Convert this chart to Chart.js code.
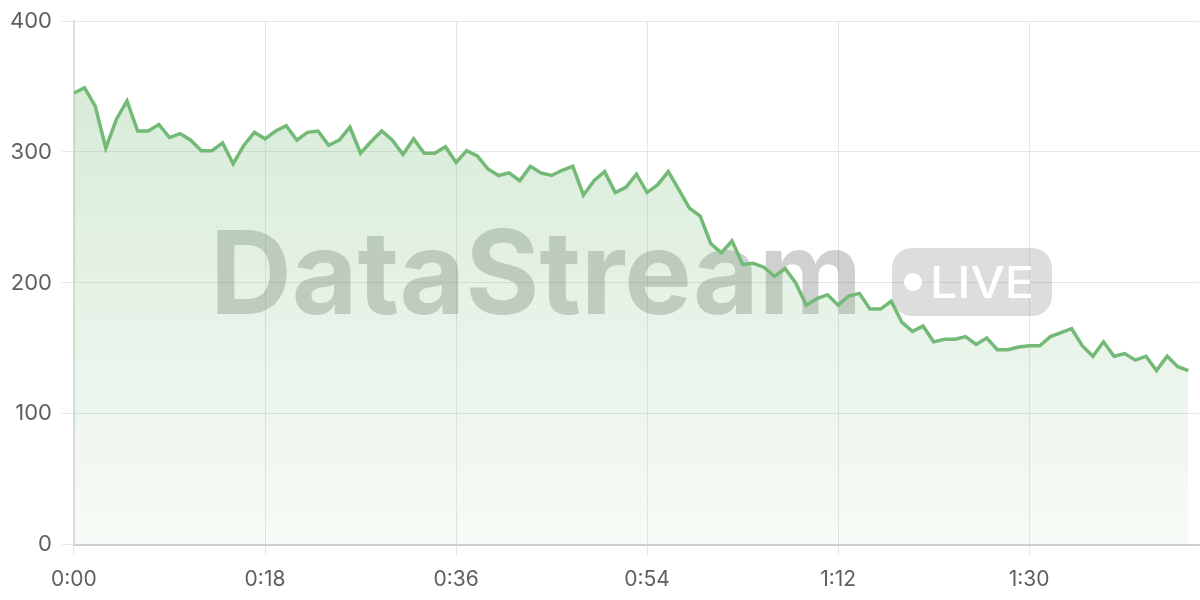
<!DOCTYPE html>
<html>
<head>
<meta charset="utf-8">
<title>DataStream live</title>
<script src="https://cdn.jsdelivr.net/npm/chart.js@4/dist/chart.umd.min.js"></script>
<style>
    html, body { margin: 0; padding: 0; background: #fff; }
    #wrap { width: 1200px; height: 600px; }
</style>
</head>
<body>
<div id="wrap"><canvas id="chart" width="1200" height="600"></canvas></div>
<script>
// Readings, one per second starting at 0:00
const readings = [
    345, 349, 335, 303, 325, 339, 316, 316, 321, 311,
    314, 309, 301, 301, 307, 291, 305, 315, 310, 316,
    320, 309, 315, 316, 305, 309, 319, 299, 308, 316,
    309, 298, 310, 299, 299, 304, 292, 301, 297, 287,
    282, 284, 278, 289, 284, 282, 286, 289, 267, 278,
    285, 269, 273, 283, 269, 275, 285, 271, 257, 251,
    230, 223, 232, 214, 215, 212, 205, 211, 200, 183,
    188, 191, 183, 190, 192, 180, 180, 186, 170, 163,
    167, 155, 157, 157, 159, 153, 158, 149, 149, 151,
    152, 152, 159, 162, 165, 152, 144, 155, 144, 146,
    141, 144, 133, 144, 136, 133
];

// Tick positions (seconds) and y ticks
const xTickSeconds = [0, 18, 36, 54, 72, 90];
const yTicks = [0, 100, 200, 300, 400];

const lineColor = "rgb(116, 186, 119)";
const ctx = document.getElementById("chart").getContext("2d");

function fmtTime(sec) {
    const m = Math.floor(sec / 60);
    const s = sec % 60;
    return m + ":" + String(s).padStart(2, "0");
}

// ----------------------
// Watermark behind the line
// ----------------------
const watermark = {
    id: "watermark",
    beforeDatasetsDraw(chart) {
        const c = chart.ctx;
        c.save();

        // big "DataStream"
        c.font = "bold 116px Inter, 'DejaVu Sans', sans-serif";
        c.textBaseline = "alphabetic";
        c.textAlign = "left";
        const w = c.measureText("DataStream").width;
        c.translate(210, 314);
        c.scale(652 / w, 1);
        c.fillStyle = "rgba(95, 100, 95, 0.3)";
        c.fillText("DataStream", 0, 0);
        c.restore();

        // LIVE badge
        c.save();
        c.fillStyle = "rgba(100, 100, 100, 0.22)";
        c.beginPath();
        c.roundRect(892, 248, 160, 68, 20);
        c.fill();
        c.fillStyle = "#ffffff";
        c.beginPath();
        c.arc(913, 282, 9, 0, Math.PI * 2);
        c.fill();
        c.font = "500 44px Inter, 'DejaVu Sans', sans-serif";
        c.textBaseline = "alphabetic";
        const lw = c.measureText("LIVE").width;
        c.translate(930, 298);
        c.scale(104 / lw, 1);
        c.fillText("LIVE", 0, 0);
        c.restore();
    }
};

const points = readings.map((v, i) => ({ x: i, y: v }));

new Chart(ctx, {
    type: "line",
    data: {
        datasets: [{
            data: points,
            borderColor: lineColor,
            borderWidth: 3.5,
            pointRadius: 0,
            tension: 0,
            fill: "origin",
            backgroundColor(context) {
                const area = context.chart.chartArea;
                if (!area) return "rgba(116,186,119,0.2)";
                const g = context.chart.ctx.createLinearGradient(0, area.top, 0, area.bottom);
                g.addColorStop(0, "rgba(116, 186, 119, 0.32)");
                g.addColorStop(1, "rgba(116, 186, 119, 0.06)");
                return g;
            }
        }]
    },
    options: {
        responsive: false,
        animation: false,
        layout: { padding: { top: 0, right: 1, left: 0, bottom: -4 } },
        plugins: {
            legend: { display: false },
            tooltip: { enabled: false }
        },
        scales: {
            x: {
                type: "linear",
                min: 0,
                max: 106,
                afterBuildTicks(axis) {
                    axis.ticks = xTickSeconds.map(v => ({ value: v }));
                },
                ticks: {
                    callback: v => fmtTime(v),
                    color: "#5f5f5f",
                    font: { family: "Inter, sans-serif", size: 21 },
                    padding: 12,
                    maxRotation: 0
                },
                grid: { color: "#e6e6e6", tickLength: 10 },
                border: { color: "#cfcfcf", width: 2 }
            },
            y: {
                min: 0,
                max: 400,
                afterBuildTicks(axis) {
                    axis.ticks = yTicks.map(v => ({ value: v }));
                },
                ticks: {
                    color: "#5f5f5f",
                    font: { family: "Inter, sans-serif", size: 22, lineHeight: 1 },
                    padding: 10
                },
                grid: { color: "#e6e6e6", tickLength: 12 },
                border: { color: "#dcdcdc", width: 2 }
            }
        }
    },
    plugins: [watermark]
});
</script>
</body>
</html>
